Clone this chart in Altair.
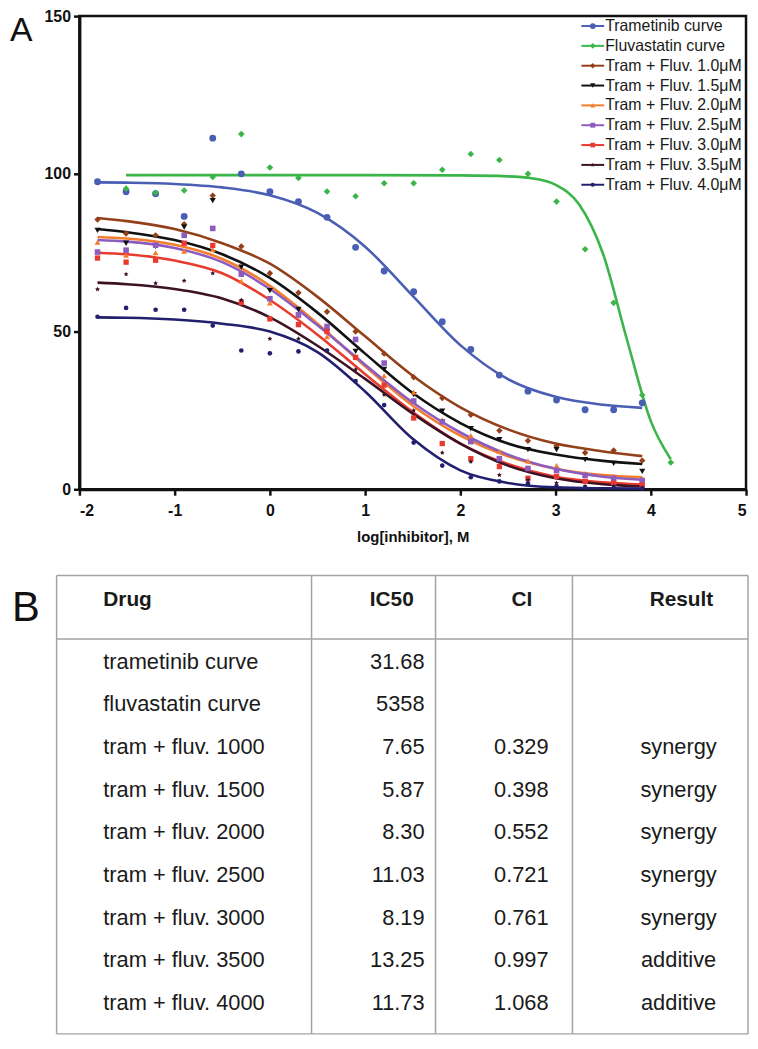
import altair as alt
import pandas as pd

FONT = "Liberation Sans"

# ---------------- data ----------------
series = ["Trametinib curve", "Fluvastatin curve", "Tram + Fluv. 1.0μM", "Tram + Fluv. 1.5μM",
          "Tram + Fluv. 2.0μM", "Tram + Fluv. 2.5μM", "Tram + Fluv. 3.0μM", "Tram + Fluv. 3.5μM",
          "Tram + Fluv. 4.0μM"]
colors = ["#4a5fb4", "#3bb449", "#93401a", "#111111", "#f47d2b", "#8d5cbf", "#ea3a2e", "#3c1225", "#22206e"]

x_pts = [-1.81, -1.51, -1.20, -0.90, -0.60, -0.30, 0.00, 0.30, 0.60, 0.90,
         1.20, 1.51, 1.81, 2.11, 2.41, 2.71, 3.01, 3.31, 3.61, 3.91]
x_fluv = [-1.51, -1.20, -0.90, -0.60, -0.30, 0.00, 0.30, 0.60, 0.90, 1.20,
          1.51, 1.81, 2.11, 2.41, 2.71, 3.01, 3.31, 3.61, 3.91, 4.21]

tram_pts = [97.5, 94.3, 93.7, 86.5, 111.3, 100.0, 94.3, 91.2, 86.2, 76.7, 69.2, 62.6, 53.1, 44.3, 36.2, 31.1, 28.3, 25.2, 25.2, 27.4]
fluv_pts = [95.3, 94.0, 94.7, 99.0, 112.6, 102.0, 98.7, 94.4, 92.9, 97.0, 97.0, 101.3, 106.3, 104.4, 100.0, 91.2, 76.1, 59.1, 29.9, 8.5]
f10_pts = [85.5, 81.1, 80.5, 84.0, 93.1, 77.0, 68.5, 62.3, 56.3, 50.0, 43.0, 35.5, 28.9, 23.6, 18.6, 15.4, 13.8, 11.6, 12.3, 9.1]
f15_pts = [82.1, 78.0, 77.0, 83.1, 91.5, 70.4, 63.0, 57.0, 50.0, 43.7, 38.0, 30.0, 24.8, 19.2, 15.7, 12.6, 12.6, 9.4, 8.2, 5.7]
f20_pts = [78.3, 74.2, 75.0, 75.5, 76.0, 66.0, 59.1, 55.0, 48.4, 42.0, 36.0, 30.8, 22.0, 17.0, 12.0, 9.0, 7.5, 5.0, 4.0, 3.0]
f25_pts = [75.2, 75.8, 77.4, 80.5, 82.7, 68.2, 60.4, 55.3, 51.6, 47.5, 40.0, 28.0, 21.4, 15.1, 9.7, 6.6, 6.0, 4.4, 3.5, 2.8]
f30_pts = [73.3, 72.0, 72.6, 78.0, 77.3, 59.2, 54.0, 52.2, 50.0, 41.8, 33.0, 22.6, 14.5, 9.7, 7.2, 3.5, 4.1, 2.5, 1.9, 1.3]
f35_pts = [63.4, 68.2, 65.3, 66.1, 68.5, 60.0, 47.7, 47.7, 44.0, 38.0, 30.0, 25.0, 11.6, 8.7, 4.5, 3.0, 2.0, 1.0, 1.0, 0.5]
f40_pts = [54.7, 57.5, 56.9, 56.9, 51.9, 44.0, 43.1, 43.7, 44.0, 34.3, 26.7, 14.8, 7.5, 3.8, 2.5, 1.9, 1.0, 0.5, 0.5, 0.3]

curve_x = [-1.81, -1.5, -1.0, -0.5, 0.0, 0.5, 1.0, 1.5, 2.0, 2.5, 3.0, 3.5, 3.91]
tram_c = [97.3, 97.2, 96.8, 95.7, 93.2, 87.6, 76.9, 61.3, 45.7, 34.9, 29.3, 26.8, 25.8]
f10_c = [86.0, 85.0, 82.5, 78.0, 71.5, 61.0, 48.5, 36.0, 26.0, 19.0, 14.5, 12.0, 10.5]
f15_c = [82.5, 81.5, 79.0, 74.5, 67.0, 56.0, 43.0, 30.5, 21.0, 14.5, 11.0, 9.0, 8.0]
f20_c = [80.0, 79.5, 77.5, 73.0, 64.5, 52.5, 39.0, 26.5, 17.0, 10.5, 6.5, 4.5, 3.8]
f25_c = [79.0, 78.5, 76.5, 72.0, 63.5, 52.0, 39.5, 27.5, 18.0, 11.0, 6.5, 4.0, 3.0]
f30_c = [75.0, 74.5, 72.5, 68.5, 60.0, 49.0, 36.5, 24.5, 14.5, 8.0, 4.0, 2.2, 1.5]
f35_c = [65.5, 65.0, 63.5, 60.5, 54.5, 45.5, 35.0, 24.0, 14.5, 7.5, 3.5, 1.6, 0.9]
f40_c = [54.5, 54.4, 53.8, 52.5, 50.0, 43.5, 31.0, 16.0, 6.0, 2.0, 0.6, 0.3, 0.2]
fluv_curve_x = [-1.51, 0.0, 1.0, 2.0, 2.5, 2.75, 3.0, 3.25, 3.5, 3.75, 4.0, 4.21]
fluv_c = [99.6, 99.6, 99.6, 99.5, 99.2, 98.6, 96.5, 90.2, 74.5, 47.4, 21.6, 9.5]

x_ticks = [-2, -1, 0, 1, 2, 3, 4, 5]
y_ticks = [0, 50, 100, 150]

headers = ["Drug", "IC50", "CI", "Result"]
drugs = ["trametinib curve", "fluvastatin curve", "tram + fluv. 1000", "tram + fluv. 1500",
         "tram + fluv. 2000", "tram + fluv. 2500", "tram + fluv. 3000", "tram + fluv. 3500",
         "tram + fluv. 4000"]
ic50 = ["31.68", "5358", "7.65", "5.87", "8.30", "11.03", "8.19", "13.25", "11.73"]
ci = ["", "", "0.329", "0.398", "0.552", "0.721", "0.761", "0.997", "1.068"]
result = ["", "", "synergy", "synergy", "synergy", "synergy", "synergy", "additive", "additive"]

# ---------------- tables ----------------
pt_y = [tram_pts, fluv_pts, f10_pts, f15_pts, f20_pts, f25_pts, f30_pts, f35_pts, f40_pts]
pt_x = [x_pts, x_fluv] + [x_pts] * 7
cv_y = [tram_c, fluv_c, f10_c, f15_c, f20_c, f25_c, f30_c, f35_c, f40_c]
cv_x = [curve_x, fluv_curve_x] + [curve_x] * 7

points_df = pd.DataFrame([{"series": s, "x": xv, "y": yv}
                          for s, xs, ys in zip(series, pt_x, pt_y) for xv, yv in zip(xs, ys)])
curves_df = pd.DataFrame([{"series": s, "x": xv, "y": yv}
                          for s, xs, ys in zip(series, cv_x, cv_y) for xv, yv in zip(xs, ys)])
legend_df = pd.DataFrame({"series": series})
tbl_df = pd.DataFrame({"drug": drugs, "ic50": ic50, "ci": ci, "result": result})
one = pd.DataFrame({"k": [0]})

# ---------------- styles ----------------
STAR = ("M0,-1L0.294,-0.405L0.951,-0.309L0.476,0.155L0.588,0.809L0,0.5"
        "L-0.588,0.809L-0.476,0.155L-0.951,-0.309L-0.294,-0.405Z")
point_shapes = ["circle", "diamond", "diamond", "triangle-down", "triangle-up",
                "square", "square", STAR, "circle"]
point_sizes = [48, 22, 38, 50, 45, 70, 50, 40, 42]
legend_sizes = [34, 18, 30, 36, 34, 44, 36, 30, 34]
stroke_ws = [2.6, 2.6, 2, 2, 2, 2, 2, 2, 2]
cscale = alt.Scale(domain=series, range=colors)
shape_scale = alt.Scale(domain=series, range=point_shapes)

# ---------------- panel A ----------------
xenc = alt.X("x:Q", title="log[inhibitor], M",
             scale=alt.Scale(domain=[-2, 5], nice=False, zero=False),
             axis=alt.Axis(values=x_ticks, labelExpr="datum.value", grid=False,
                           labelPadding=7, titlePadding=12))
yenc = alt.Y("y:Q", title=None, scale=alt.Scale(domain=[0, 150], nice=False),
             axis=alt.Axis(values=y_ticks, labelExpr="datum.value", grid=False))

lines = alt.Chart(curves_df).mark_line(interpolate="monotone").encode(
    x=xenc, y=yenc,
    color=alt.Color("series:N", scale=cscale, legend=None),
    strokeWidth=alt.StrokeWidth("series:N", scale=alt.Scale(domain=series, range=stroke_ws), legend=None),
    detail="series:N",
)
pts = alt.Chart(points_df).mark_point(filled=True, opacity=1).encode(
    x=xenc, y=yenc,
    color=alt.Color("series:N", scale=cscale, legend=None),
    shape=alt.Shape("series:N", scale=shape_scale, legend=None),
    size=alt.Size("series:N", scale=alt.Scale(domain=series, range=point_sizes), legend=None),
)
label_a = alt.Chart(one).mark_text(text="A", font=FONT, fontSize=34, align="left",
                                   baseline="top", color="#111").encode(
    x=alt.value(-70), y=alt.value(-2))

plot_layers = alt.layer(lines, pts, label_a)

# legend drawn from the series list
ley = alt.Y("series:N", sort=series, axis=None,
            scale=alt.Scale(type="point", domain=series, range=[10, 170], padding=0))
leg_line = alt.Chart(legend_df).mark_rule(strokeWidth=2).encode(
    x=alt.value(506), x2=alt.value(529), y=ley,
    color=alt.Color("series:N", scale=cscale, legend=None))
leg_pt = alt.Chart(legend_df).mark_point(filled=True, opacity=1).encode(
    x=alt.value(517.5), y=ley,
    color=alt.Color("series:N", scale=cscale, legend=None),
    shape=alt.Shape("series:N", scale=shape_scale, legend=None),
    size=alt.Size("series:N", scale=alt.Scale(domain=series, range=legend_sizes), legend=None))
leg_txt = alt.Chart(legend_df).mark_text(align="left", baseline="middle", font=FONT,
                                         fontSize=16, color="#1a1a1a").encode(
    x=alt.value(530), y=ley, text="series:N")
legend_layers = alt.layer(leg_line, leg_pt, leg_txt)

panel_a = alt.layer(plot_layers, legend_layers).resolve_scale(
    y="independent", size="independent"
).properties(
    width=672, height=477,
    view=alt.ViewBackground(stroke="#111", strokeWidth=2.5),
)

# ---------------- panel B ----------------
# the table's view starts at the plot's left edge; its frame reaches 23px further left
GRID = "#a3a3a3"
TW, TH = 674, 462
TL = -23
yrow = alt.Y("drug:N", sort=drugs, axis=None,
             scale=alt.Scale(type="point", domain=drugs, range=[94, 438], padding=0))

def col_text(field, xpos, align):
    return alt.Chart(tbl_df).mark_text(align=align, baseline="alphabetic", font=FONT,
                                       fontSize=22, color="#1a1a1a").encode(
        x=alt.value(xpos), y=yrow, text=f"{field}:N")

def head_text(txt, xpos, align):
    return alt.Chart(one).mark_text(text=txt, align=align, baseline="alphabetic", font=FONT,
                                    fontSize=21, fontWeight="bold", color="#1a1a1a").encode(
        x=alt.value(xpos), y=alt.value(31))

def vrule(xpos):
    return alt.Chart(one).mark_rule(color=GRID, strokeWidth=1.5).encode(
        x=alt.value(xpos), y=alt.value(0), y2=alt.value(TH))

def hrule(ypos):
    return alt.Chart(one).mark_rule(color=GRID, strokeWidth=1.5).encode(
        x=alt.value(TL), x2=alt.value(TW), y=alt.value(ypos))

label_b = alt.Chart(one).mark_text(text="B", font=FONT, fontSize=42, align="left",
                                   baseline="alphabetic", color="#111").encode(
    x=alt.value(-68), y=alt.value(46))

panel_b = alt.layer(
    vrule(TL), vrule(234), vrule(359), vrule(497), vrule(TW),
    hrule(0), hrule(64), hrule(TH),
    head_text(headers[0], 24, "left"), head_text(headers[1], 337, "right"),
    head_text(headers[2], 446, "center"), head_text(headers[3], 639, "right"),
    col_text("drug", 24, "left"), col_text("ic50", 348, "right"),
    col_text("ci", 473, "right"), col_text("result", 604, "center"),
    label_b,
).properties(width=TW, height=TH, view=alt.ViewBackground(stroke="transparent"))

chart = alt.vconcat(panel_a, panel_b, spacing=27).properties(
    padding={"left": 0, "top": -6, "right": 0, "bottom": 0}
).configure(
    font=FONT
).configure_axis(
    domainColor="#111", domainWidth=3, tickColor="#111", tickWidth=2.5, tickSize=6,
    labelFont=FONT, labelFontSize=16, labelFontWeight="bold", labelColor="#111", labelPadding=3,
    titleFont=FONT, titleFontSize=15, titleFontWeight="bold", titleColor="#111", titlePadding=11,
)

chart.save("out.html", embed_options={"renderer": "svg", "actions": False})
